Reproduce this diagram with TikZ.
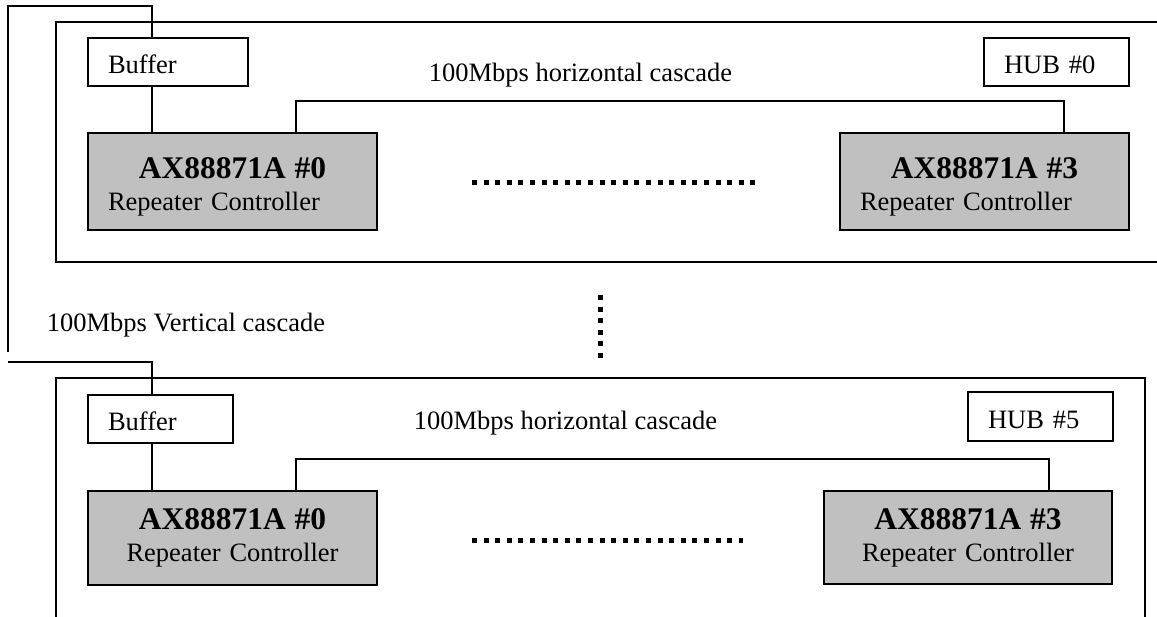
\documentclass[tikz,border=0pt]{standalone}
\usepackage{fontspec}
\setmainfont{Liberation Serif}
\usepackage{tikz}
\usetikzlibrary{positioning,calc}
\definecolor{chipgray}{RGB}{192,192,192}
\newcommand{\regsize}{\fontsize{26.5}{32}\selectfont}
\newcommand{\boldsize}{\fontsize{31.5}{36}\selectfont\bfseries}

\begin{document}
\begin{tikzpicture}[x=1pt,y=-1pt,line width=1.8pt,font=\regsize,
    tag/.style={draw,rectangle,anchor=north west,outer sep=0pt,inner xsep=20pt,inner ysep=0pt,align=left,text width=105pt,text height=24pt,text depth=0pt,minimum height=48pt},
    chip/.style={draw,rectangle,anchor=north west,outer sep=0pt,fill=chipgray,inner xsep=20pt,inner ysep=0pt,align=center,text width=249pt,minimum height=97pt},
    txt/.style={anchor=base west,inner sep=0pt},
    dots/.style={line width=5pt,dash pattern=on 5pt off 6.6pt}]

        \useasboundingbox (0,0) rectangle (1157,617);

        \draw (1157,22) -| (56,262) -- (1157,262);
        \draw (56,617) |- (1145,378) -- (1145,617);

        \node[tag,text width=120pt] (b0) at (88,38) {Buffer};
        \node[tag] (h0) at (984,38) {HUB \#0};
        \node[chip,text height=31pt] (c00) at (88,133) {{\boldsize AX88871A \#0}\\\makebox[249pt][l]{Repeater Controller}};
        \node[chip,text height=31pt] (c03) at (840,133) {{\boldsize AX88871A \#3}\\\makebox[249pt][l]{Repeater Controller}};
        \node[txt] (l0) at (428,82) {100Mbps horizontal cascade};

        \node[tag] (b5) at (88,395) {Buffer};
        \node[tag,minimum height=49pt] (h5) at (968,392) {HUB \#5};
        \node[chip,minimum height=94pt] (c50) at (88,491) {{\boldsize AX88871A \#0}\\Repeater Controller};
        \node[chip,minimum height=93pt,text width=248pt] (c53) at (824,491) {{\boldsize AX88871A \#3}\\Repeater Controller};
        \node[txt] (l5) at (413,430) {100Mbps horizontal cascade};

        \node[txt] (lv) at (46,332) {100Mbps Vertical cascade};

        \coordinate (tap) at (152,0);
        \coordinate (top) at (152,6);
        \coordinate (v0) at (8,352);
        \coordinate (v5) at (8,362);

        \draw (v0) |- (top) -- (b0.north -| tap);
        \draw (v5) -| (b5.north -| tap);
        \draw (b0.south -| tap) -- (c00.north -| tap);
        \draw (b5.south -| tap) -- (c50.north -| tap);

        \draw ([xshift=208pt]c00.north west) -- ++(0,-32) -| ([xshift=-65pt]c03.north east);
        \draw ([xshift=208pt]c50.north west) -- ++(0,-32) -| ([xshift=-63pt]c53.north east);

        \draw[dots] (472,183) -- (756,183);
        \draw[dots] (472,540) -- (743,540);
        \draw[dots] (600,295) -- (600,358);

\end{tikzpicture}
\end{document}
